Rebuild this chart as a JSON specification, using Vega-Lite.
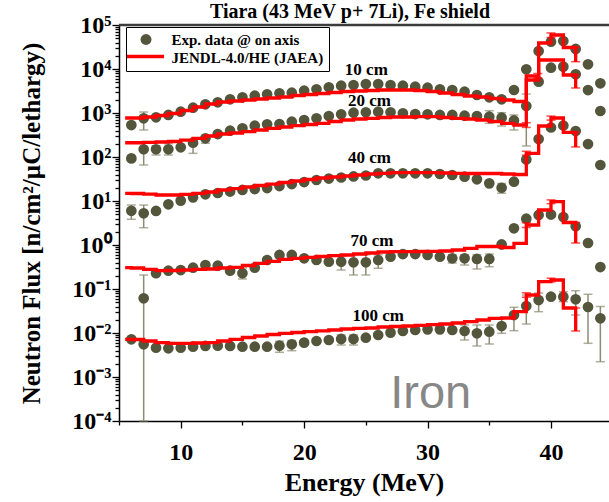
{
  "$schema": "https://vega.github.io/schema/vega-lite/v6.json",
  "width": 490,
  "height": 396,
  "autosize": {"type": "none"},
  "padding": {"left": 119, "top": 25, "right": 0, "bottom": 81},
  "background": "white",
  "title": {"text": "Tiara (43 MeV p+ 7Li), Fe shield", "font": "Liberation Serif", "fontSize": 20, "fontWeight": "bold", "color": "black", "anchor": "middle", "frame": "group", "dx": -14, "offset": -25, "baseline": "alphabetic"},
  "datasets": {
    "exp": [
      {"depth":"10 cm","E":6,"flux":533},{"depth":"10 cm","E":7,"flux":759},{"depth":"10 cm","E":8,"flux":798},{"depth":"10 cm","E":9,"flux":902},{"depth":"10 cm","E":10,"flux":1072},{"depth":"10 cm","E":11,"flux":1318},{"depth":"10 cm","E":12,"flux":1578},{"depth":"10 cm","E":13,"flux":1750},{"depth":"10 cm","E":14,"flux":2046},{"depth":"10 cm","E":15,"flux":2275},{"depth":"10 cm","E":16,"flux":2472},{"depth":"10 cm","E":17,"flux":2661},{"depth":"10 cm","E":18,"flux":2805},{"depth":"10 cm","E":19,"flux":2891},{"depth":"10 cm","E":20,"flux":3214},{"depth":"10 cm","E":21,"flux":3459},{"depth":"10 cm","E":22,"flux":3837},{"depth":"10 cm","E":23,"flux":4169},{"depth":"10 cm","E":24,"flux":4325},{"depth":"10 cm","E":25,"flux":4560},{"depth":"10 cm","E":26,"flux":4560},{"depth":"10 cm","E":27,"flux":4325},{"depth":"10 cm","E":28,"flux":4169},{"depth":"10 cm","E":29,"flux":3963},{"depth":"10 cm","E":30,"flux":3758},{"depth":"10 cm","E":31,"flux":3459},{"depth":"10 cm","E":32,"flux":3334},{"depth":"10 cm","E":33,"flux":3048},{"depth":"10 cm","E":34,"flux":2564},{"depth":"10 cm","E":35,"flux":2275},{"depth":"10 cm","E":36,"flux":2046},{"depth":"10 cm","E":37,"flux":3334},{"depth":"10 cm","E":38,"flux":9840},{"depth":"10 cm","E":39,"flux":25600},{"depth":"10 cm","E":40,"flux":41700},{"depth":"10 cm","E":41,"flux":43300},{"depth":"10 cm","E":42,"flux":28500},{"depth":"10 cm","E":43,"flux":12800},{"depth":"10 cm","E":44,"flux":4730},
      {"depth":"20 cm","E":6,"flux":93},{"depth":"20 cm","E":7,"flux":150},{"depth":"20 cm","E":8,"flux":150},{"depth":"20 cm","E":9,"flux":150},{"depth":"20 cm","E":10,"flux":166},{"depth":"20 cm","E":11,"flux":211},{"depth":"20 cm","E":12,"flux":266},{"depth":"20 cm","E":13,"flux":333},{"depth":"20 cm","E":14,"flux":396},{"depth":"20 cm","E":15,"flux":449},{"depth":"20 cm","E":16,"flux":514},{"depth":"20 cm","E":17,"flux":553},{"depth":"20 cm","E":18,"flux":562},{"depth":"20 cm","E":19,"flux":634},{"depth":"20 cm","E":20,"flux":693},{"depth":"20 cm","E":21,"flux":759},{"depth":"20 cm","E":22,"flux":855},{"depth":"20 cm","E":23,"flux":934},{"depth":"20 cm","E":24,"flux":1016},{"depth":"20 cm","E":25,"flux":1038},{"depth":"20 cm","E":26,"flux":1072},{"depth":"20 cm","E":27,"flux":1038},{"depth":"20 cm","E":28,"flux":984},{"depth":"20 cm","E":29,"flux":948},{"depth":"20 cm","E":30,"flux":934},{"depth":"20 cm","E":31,"flux":902},{"depth":"20 cm","E":32,"flux":902},{"depth":"20 cm","E":33,"flux":869},{"depth":"20 cm","E":34,"flux":855},{"depth":"20 cm","E":35,"flux":824},{"depth":"20 cm","E":36,"flux":782},{"depth":"20 cm","E":37,"flux":676},{"depth":"20 cm","E":38,"flux":1442},{"depth":"20 cm","E":39,"flux":5140},{"depth":"20 cm","E":40,"flux":10700},{"depth":"20 cm","E":41,"flux":11300},{"depth":"20 cm","E":42,"flux":7590},{"depth":"20 cm","E":43,"flux":3330},{"depth":"20 cm","E":44,"flux":1110},
      {"depth":"40 cm","E":6,"flux":6.0},{"depth":"40 cm","E":7,"flux":5.25},{"depth":"40 cm","E":8,"flux":5.93},{"depth":"40 cm","E":9,"flux":8.41},{"depth":"40 cm","E":10,"flux":10.2},{"depth":"40 cm","E":11,"flux":12.1},{"depth":"40 cm","E":12,"flux":14.2},{"depth":"40 cm","E":13,"flux":15.2},{"depth":"40 cm","E":14,"flux":16.4},{"depth":"40 cm","E":15,"flux":17.8},{"depth":"40 cm","E":16,"flux":18.7},{"depth":"40 cm","E":17,"flux":19.7},{"depth":"40 cm","E":18,"flux":21.9},{"depth":"40 cm","E":19,"flux":24.3},{"depth":"40 cm","E":20,"flux":27.0},{"depth":"40 cm","E":21,"flux":30.0},{"depth":"40 cm","E":22,"flux":32.4},{"depth":"40 cm","E":23,"flux":34.2},{"depth":"40 cm","E":24,"flux":36.1},{"depth":"40 cm","E":25,"flux":38.0},{"depth":"40 cm","E":26,"flux":42.7},{"depth":"40 cm","E":27,"flux":42.7},{"depth":"40 cm","E":28,"flux":42.7},{"depth":"40 cm","E":29,"flux":42.7},{"depth":"40 cm","E":30,"flux":42.7},{"depth":"40 cm","E":31,"flux":41.1},{"depth":"40 cm","E":32,"flux":39.0},{"depth":"40 cm","E":33,"flux":35.6},{"depth":"40 cm","E":34,"flux":31.1},{"depth":"40 cm","E":35,"flux":25.2},{"depth":"40 cm","E":36,"flux":20.0},{"depth":"40 cm","E":37,"flux":27.5},{"depth":"40 cm","E":38,"flux":87.7},{"depth":"40 cm","E":39,"flux":256},{"depth":"40 cm","E":40,"flux":468},{"depth":"40 cm","E":41,"flux":520},{"depth":"40 cm","E":42,"flux":390},{"depth":"40 cm","E":43,"flux":197},{"depth":"40 cm","E":44,"flux":65.8},
      {"depth":"70 cm","E":7,"flux":0.0615},{"depth":"70 cm","E":8,"flux":0.228},{"depth":"70 cm","E":9,"flux":0.261},{"depth":"70 cm","E":10,"flux":0.270},{"depth":"70 cm","E":11,"flux":0.305},{"depth":"70 cm","E":12,"flux":0.351},{"depth":"70 cm","E":13,"flux":0.339},{"depth":"70 cm","E":14,"flux":0.261},{"depth":"70 cm","E":15,"flux":0.228},{"depth":"70 cm","E":16,"flux":0.305},{"depth":"70 cm","E":17,"flux":0.456},{"depth":"70 cm","E":18,"flux":0.593},{"depth":"70 cm","E":19,"flux":0.593},{"depth":"70 cm","E":20,"flux":0.499},{"depth":"70 cm","E":21,"flux":0.456},{"depth":"70 cm","E":22,"flux":0.417},{"depth":"70 cm","E":23,"flux":0.417},{"depth":"70 cm","E":24,"flux":0.404},{"depth":"70 cm","E":25,"flux":0.404},{"depth":"70 cm","E":26,"flux":0.456},{"depth":"70 cm","E":27,"flux":0.542},{"depth":"70 cm","E":28,"flux":0.624},{"depth":"70 cm","E":29,"flux":0.624},{"depth":"70 cm","E":30,"flux":0.593},{"depth":"70 cm","E":31,"flux":0.542},{"depth":"70 cm","E":32,"flux":0.499},{"depth":"70 cm","E":33,"flux":0.499},{"depth":"70 cm","E":34,"flux":0.481},{"depth":"70 cm","E":35,"flux":0.481},{"depth":"70 cm","E":36,"flux":1.03},{"depth":"70 cm","E":37,"flux":2.40},{"depth":"70 cm","E":38,"flux":3.96},{"depth":"70 cm","E":39,"flux":4.81},{"depth":"70 cm","E":40,"flux":4.93},{"depth":"70 cm","E":41,"flux":4.33},{"depth":"70 cm","E":42,"flux":2.66},{"depth":"70 cm","E":43,"flux":1.11},{"depth":"70 cm","E":44,"flux":0.316},
      {"depth":"100 cm","E":6,"flux":0.00719},{"depth":"100 cm","E":7,"flux":0.00553},{"depth":"100 cm","E":8,"flux":0.00463},{"depth":"100 cm","E":9,"flux":0.00449},{"depth":"100 cm","E":10,"flux":0.00463},{"depth":"100 cm","E":11,"flux":0.00489},{"depth":"100 cm","E":12,"flux":0.00507},{"depth":"100 cm","E":13,"flux":0.00514},{"depth":"100 cm","E":14,"flux":0.00507},{"depth":"100 cm","E":15,"flux":0.00489},{"depth":"100 cm","E":16,"flux":0.00489},{"depth":"100 cm","E":17,"flux":0.00489},{"depth":"100 cm","E":18,"flux":0.00514},{"depth":"100 cm","E":19,"flux":0.00553},{"depth":"100 cm","E":20,"flux":0.00603},{"depth":"100 cm","E":21,"flux":0.00658},{"depth":"100 cm","E":22,"flux":0.00693},{"depth":"100 cm","E":23,"flux":0.00731},{"depth":"100 cm","E":24,"flux":0.00731},{"depth":"100 cm","E":25,"flux":0.00782},{"depth":"100 cm","E":26,"flux":0.00901},{"depth":"100 cm","E":27,"flux":0.0102},{"depth":"100 cm","E":28,"flux":0.0111},{"depth":"100 cm","E":29,"flux":0.0117},{"depth":"100 cm","E":30,"flux":0.0121},{"depth":"100 cm","E":31,"flux":0.0121},{"depth":"100 cm","E":32,"flux":0.0117},{"depth":"100 cm","E":33,"flux":0.0111},{"depth":"100 cm","E":34,"flux":0.00984},{"depth":"100 cm","E":35,"flux":0.0107},{"depth":"100 cm","E":36,"flux":0.0144},{"depth":"100 cm","E":37,"flux":0.0256},{"depth":"100 cm","E":38,"flux":0.0411},{"depth":"100 cm","E":39,"flux":0.0562},{"depth":"100 cm","E":40,"flux":0.0668},{"depth":"100 cm","E":41,"flux":0.0668},{"depth":"100 cm","E":42,"flux":0.0583},{"depth":"100 cm","E":43,"flux":0.0390},{"depth":"100 cm","E":44,"flux":0.0216}
    ],
    "errs": [
      {"depth":"10 cm","E":7,"lo":411,"hi":1054},
      {"depth":"20 cm","E":7,"lo":65.8,"hi":223},{"depth":"20 cm","E":8,"lo":111,"hi":180},{"depth":"20 cm","E":9,"lo":111,"hi":200},{"depth":"20 cm","E":11,"lo":121,"hi":240},{"depth":"20 cm","E":12,"lo":205,"hi":300},{"depth":"20 cm","E":35,"lo":583,"hi":1127},{"depth":"20 cm","E":36,"lo":507,"hi":1016},{"depth":"20 cm","E":37,"lo":411,"hi":902},{"depth":"20 cm","E":38,"lo":178,"hi":2704},
      {"depth":"40 cm","E":6,"lo":3.84,"hi":8.1},{"depth":"40 cm","E":7,"lo":2.47,"hi":8.1},{"depth":"40 cm","E":36,"lo":15.0,"hi":25},
      {"depth":"70 cm","E":7,"lo":0.0001,"hi":0.208},{"depth":"70 cm","E":15,"lo":0.169,"hi":0.3},{"depth":"70 cm","E":23,"lo":0.270,"hi":0.55},{"depth":"70 cm","E":24,"lo":0.208,"hi":0.6},{"depth":"70 cm","E":25,"lo":0.208,"hi":0.6},{"depth":"70 cm","E":26,"lo":0.295,"hi":0.6},{"depth":"70 cm","E":32,"lo":0.390,"hi":0.6},{"depth":"70 cm","E":33,"lo":0.351,"hi":0.6},{"depth":"70 cm","E":34,"lo":0.285,"hi":0.6},{"depth":"70 cm","E":35,"lo":0.321,"hi":0.624},
      {"depth":"100 cm","E":18,"lo":0.00364,"hi":0.0065},{"depth":"100 cm","E":19,"lo":0.00396,"hi":0.0068},{"depth":"100 cm","E":23,"lo":0.00533,"hi":0.009},{"depth":"100 cm","E":24,"lo":0.00533,"hi":0.009},{"depth":"100 cm","E":33,"lo":0.00693,"hi":0.0152},{"depth":"100 cm","E":34,"lo":0.00507,"hi":0.0152},{"depth":"100 cm","E":35,"lo":0.00562,"hi":0.0152},{"depth":"100 cm","E":36,"lo":0.00984,"hi":0.0219},{"depth":"100 cm","E":37,"lo":0.0113,"hi":0.0384},{"depth":"100 cm","E":38,"lo":0.0160,"hi":0.0731},{"depth":"100 cm","E":39,"lo":0.0305,"hi":0.0811},{"depth":"100 cm","E":41,"lo":0.0514,"hi":0.0869},{"depth":"100 cm","E":42,"lo":0.0256,"hi":0.0914},{"depth":"100 cm","E":43,"lo":0.00583,"hi":0.0759},{"depth":"100 cm","E":44,"lo":0.00223,"hi":0.0400}
    ],
    "moderr": [
      {"depth":"10 cm","E":42,"lo":14660,"hi":30820},{"depth":"20 cm","E":42,"lo":3700,"hi":7305},{"depth":"40 cm","E":42,"lo":169,"hi":361},{"depth":"70 cm","E":42,"lo":1.11,"hi":3.25},{"depth":"100 cm","E":42,"lo":0.0111,"hi":0.0370},
      {"depth":"10 cm","E":38.93,"lo":6200,"hi":7900},{"depth":"20 cm","E":38,"lo":470,"hi":600},{"depth":"40 cm","E":38,"lo":110,"hi":135},{"depth":"70 cm","E":38,"lo":2.5,"hi":3.2},{"depth":"100 cm","E":38,"lo":0.065,"hi":0.082},
      {"depth":"10 cm","E":40,"lo":52000,"hi":66000},{"depth":"40 cm","E":40,"lo":690,"hi":850},{"depth":"70 cm","E":40,"lo":8.7,"hi":10.6},{"depth":"100 cm","E":40,"lo":0.145,"hi":0.176}
    ],
    "model": [
      {"depth":"10 cm","E":5.5,"flux":769},{"depth":"10 cm","E":6,"flux":769},{"depth":"10 cm","E":7,"flux":811},{"depth":"10 cm","E":8,"flux":877},{"depth":"10 cm","E":9,"flux":974},{"depth":"10 cm","E":10,"flux":1140},{"depth":"10 cm","E":11,"flux":1369},{"depth":"10 cm","E":12,"flux":1603},{"depth":"10 cm","E":13,"flux":1778},{"depth":"10 cm","E":14,"flux":1874},{"depth":"10 cm","E":15,"flux":1974},{"depth":"10 cm","E":16,"flux":2080},{"depth":"10 cm","E":17,"flux":2193},{"depth":"10 cm","E":18,"flux":2310},{"depth":"10 cm","E":19,"flux":2500},{"depth":"10 cm","E":20,"flux":2633},{"depth":"10 cm","E":21,"flux":2775},{"depth":"10 cm","E":22,"flux":2924},{"depth":"10 cm","E":23,"flux":3081},{"depth":"10 cm","E":24,"flux":3162},{"depth":"10 cm","E":25,"flux":3246},{"depth":"10 cm","E":26,"flux":3332},{"depth":"10 cm","E":27,"flux":3332},{"depth":"10 cm","E":28,"flux":3332},{"depth":"10 cm","E":29,"flux":3246},{"depth":"10 cm","E":30,"flux":3081},{"depth":"10 cm","E":31,"flux":2848},{"depth":"10 cm","E":32,"flux":2633},{"depth":"10 cm","E":33,"flux":2433},{"depth":"10 cm","E":34,"flux":2310},{"depth":"10 cm","E":35,"flux":2136},{"depth":"10 cm","E":36,"flux":1974},{"depth":"10 cm","E":37,"flux":1825},{"depth":"10 cm","E":38,"flux":6934},{"depth":"10 cm","E":39,"flux":38990},{"depth":"10 cm","E":40,"flux":59250},{"depth":"10 cm","E":41,"flux":30820},{"depth":"10 cm","E":42,"flux":14660},
      {"depth":"20 cm","E":5.5,"flux":211},{"depth":"20 cm","E":6,"flux":211},{"depth":"20 cm","E":7,"flux":214},{"depth":"20 cm","E":8,"flux":219},{"depth":"20 cm","E":9,"flux":225},{"depth":"20 cm","E":10,"flux":243},{"depth":"20 cm","E":11,"flux":266},{"depth":"20 cm","E":12,"flux":300},{"depth":"20 cm","E":13,"flux":333},{"depth":"20 cm","E":14,"flux":351},{"depth":"20 cm","E":15,"flux":376},{"depth":"20 cm","E":16,"flux":411},{"depth":"20 cm","E":17,"flux":449},{"depth":"20 cm","E":18,"flux":481},{"depth":"20 cm","E":19,"flux":514},{"depth":"20 cm","E":20,"flux":548},{"depth":"20 cm","E":21,"flux":583},{"depth":"20 cm","E":22,"flux":641},{"depth":"20 cm","E":23,"flux":693},{"depth":"20 cm","E":24,"flux":731},{"depth":"20 cm","E":25,"flux":758},{"depth":"20 cm","E":26,"flux":791},{"depth":"20 cm","E":27,"flux":811},{"depth":"20 cm","E":28,"flux":811},{"depth":"20 cm","E":29,"flux":824},{"depth":"20 cm","E":30,"flux":824},{"depth":"20 cm","E":31,"flux":791},{"depth":"20 cm","E":32,"flux":758},{"depth":"20 cm","E":33,"flux":731},{"depth":"20 cm","E":34,"flux":693},{"depth":"20 cm","E":35,"flux":641},{"depth":"20 cm","E":36,"flux":583},{"depth":"20 cm","E":37,"flux":534},{"depth":"20 cm","E":38,"flux":5623},{"depth":"20 cm","E":39,"flux":16030},{"depth":"20 cm","E":40,"flux":16030},{"depth":"20 cm","E":41,"flux":7305},{"depth":"20 cm","E":42,"flux":3700},
      {"depth":"40 cm","E":5.5,"flux":14.96},{"depth":"40 cm","E":6,"flux":14.8},{"depth":"40 cm","E":7,"flux":14.4},{"depth":"40 cm","E":8,"flux":13.7},{"depth":"40 cm","E":9,"flux":13.7},{"depth":"40 cm","E":10,"flux":14.1},{"depth":"40 cm","E":11,"flux":14.96},{"depth":"40 cm","E":12,"flux":16.0},{"depth":"40 cm","E":13,"flux":17.8},{"depth":"40 cm","E":14,"flux":19.2},{"depth":"40 cm","E":15,"flux":20.8},{"depth":"40 cm","E":16,"flux":22.5},{"depth":"40 cm","E":17,"flux":24.3},{"depth":"40 cm","E":18,"flux":26.3},{"depth":"40 cm","E":19,"flux":28.5},{"depth":"40 cm","E":20,"flux":30.8},{"depth":"40 cm","E":21,"flux":33.3},{"depth":"40 cm","E":22,"flux":35.1},{"depth":"40 cm","E":23,"flux":37.0},{"depth":"40 cm","E":24,"flux":39.0},{"depth":"40 cm","E":25,"flux":41.1},{"depth":"40 cm","E":26,"flux":42.6},{"depth":"40 cm","E":27,"flux":44.0},{"depth":"40 cm","E":28,"flux":44.0},{"depth":"40 cm","E":29,"flux":44.0},{"depth":"40 cm","E":30,"flux":44.0},{"depth":"40 cm","E":31,"flux":43.3},{"depth":"40 cm","E":32,"flux":42.6},{"depth":"40 cm","E":33,"flux":42.2},{"depth":"40 cm","E":34,"flux":42.2},{"depth":"40 cm","E":35,"flux":42.2},{"depth":"40 cm","E":36,"flux":41.1},{"depth":"40 cm","E":37,"flux":40.0},{"depth":"40 cm","E":38,"flux":121},{"depth":"40 cm","E":39,"flux":507},{"depth":"40 cm","E":40,"flux":769},{"depth":"40 cm","E":41,"flux":361},{"depth":"40 cm","E":42,"flux":169},
      {"depth":"70 cm","E":5.5,"flux":0.305},{"depth":"70 cm","E":6,"flux":0.300},{"depth":"70 cm","E":7,"flux":0.278},{"depth":"70 cm","E":8,"flux":0.261},{"depth":"70 cm","E":9,"flux":0.263},{"depth":"70 cm","E":10,"flux":0.270},{"depth":"70 cm","E":11,"flux":0.278},{"depth":"70 cm","E":12,"flux":0.285},{"depth":"70 cm","E":13,"flux":0.300},{"depth":"70 cm","E":14,"flux":0.311},{"depth":"70 cm","E":15,"flux":0.342},{"depth":"70 cm","E":16,"flux":0.384},{"depth":"70 cm","E":17,"flux":0.426},{"depth":"70 cm","E":18,"flux":0.473},{"depth":"70 cm","E":19,"flux":0.499},{"depth":"70 cm","E":20,"flux":0.525},{"depth":"70 cm","E":21,"flux":0.548},{"depth":"70 cm","E":22,"flux":0.571},{"depth":"70 cm","E":23,"flux":0.593},{"depth":"70 cm","E":24,"flux":0.624},{"depth":"70 cm","E":25,"flux":0.658},{"depth":"70 cm","E":26,"flux":0.693},{"depth":"70 cm","E":27,"flux":0.705},{"depth":"70 cm","E":28,"flux":0.705},{"depth":"70 cm","E":29,"flux":0.712},{"depth":"70 cm","E":30,"flux":0.719},{"depth":"70 cm","E":31,"flux":0.731},{"depth":"70 cm","E":32,"flux":0.770},{"depth":"70 cm","E":33,"flux":0.841},{"depth":"70 cm","E":34,"flux":0.925},{"depth":"70 cm","E":35,"flux":0.925},{"depth":"70 cm","E":36,"flux":0.877},{"depth":"70 cm","E":37,"flux":1.093},{"depth":"70 cm","E":38,"flux":2.85},{"depth":"70 cm","E":39,"flux":6.24},{"depth":"70 cm","E":40,"flux":9.64},{"depth":"70 cm","E":41,"flux":3.25},{"depth":"70 cm","E":42,"flux":1.11},
      {"depth":"100 cm","E":5.5,"flux":0.00719},{"depth":"100 cm","E":6,"flux":0.00712},{"depth":"100 cm","E":7,"flux":0.00658},{"depth":"100 cm","E":8,"flux":0.00602},{"depth":"100 cm","E":9,"flux":0.00583},{"depth":"100 cm","E":10,"flux":0.00583},{"depth":"100 cm","E":11,"flux":0.00593},{"depth":"100 cm","E":12,"flux":0.00602},{"depth":"100 cm","E":13,"flux":0.00658},{"depth":"100 cm","E":14,"flux":0.00719},{"depth":"100 cm","E":15,"flux":0.00791},{"depth":"100 cm","E":16,"flux":0.00855},{"depth":"100 cm","E":17,"flux":0.00925},{"depth":"100 cm","E":18,"flux":0.00985},{"depth":"100 cm","E":19,"flux":0.01026},{"depth":"100 cm","E":20,"flux":0.01071},{"depth":"100 cm","E":21,"flux":0.01122},{"depth":"100 cm","E":22,"flux":0.0117},{"depth":"100 cm","E":23,"flux":0.01233},{"depth":"100 cm","E":24,"flux":0.01279},{"depth":"100 cm","E":25,"flux":0.0130},{"depth":"100 cm","E":26,"flux":0.01368},{"depth":"100 cm","E":27,"flux":0.01405},{"depth":"100 cm","E":28,"flux":0.01443},{"depth":"100 cm","E":29,"flux":0.01496},{"depth":"100 cm","E":30,"flux":0.01545},{"depth":"100 cm","E":31,"flux":0.01602},{"depth":"100 cm","E":32,"flux":0.01687},{"depth":"100 cm","E":33,"flux":0.01807},{"depth":"100 cm","E":34,"flux":0.01974},{"depth":"100 cm","E":35,"flux":0.02158},{"depth":"100 cm","E":36,"flux":0.02193},{"depth":"100 cm","E":37,"flux":0.0305},{"depth":"100 cm","E":38,"flux":0.0731},{"depth":"100 cm","E":39,"flux":0.1466},{"depth":"100 cm","E":40,"flux":0.160},{"depth":"100 cm","E":41,"flux":0.0370},{"depth":"100 cm","E":42,"flux":0.0111}
    ],
    "labels": [
      {"text":"10 cm","E":25.04,"flux":9490},{"text":"20 cm","E":25.3,"flux":1874},{"text":"40 cm","E":25.3,"flux":94.9},{"text":"70 cm","E":25.5,"flux":1.23},{"text":"100 cm","E":26.0,"flux":0.0243}
    ],
    "note": [{"text":"Iron","E":30.26,"flux":0.000197}]
  },
  "layer": [
    {
      "data": {"values": [{"edge": "top"}]},
      "mark": {"type": "rule", "color": "#3c3c3c", "strokeWidth": 2.5},
      "encoding": {"y": {"datum": 100000, "type": "quantitative", "scale": {"type": "log", "domain": [0.0001, 100000]}, "title": "Neutron Flux [n/cm²/µC/lethargy)"}}
    },
    {
      "data": {"name": "errs"},
      "mark": {"type": "errorbar", "ticks": {"size": 9}, "thickness": 1.5, "color": "#8c8c74"},
      "encoding": {
        "x": {"field": "E", "type": "quantitative", "title": "Energy (MeV)", "scale": {"domain": [5, 44.7], "nice": false, "zero": false}},
        "y": {"field": "lo", "type": "quantitative", "title": "Neutron Flux [n/cm²/µC/lethargy)", "scale": {"type": "log", "domain": [0.0001, 100000]}},
        "y2": {"field": "hi"}
      }
    },
    {
      "data": {"name": "exp"},
      "mark": {"type": "point", "filled": true, "size": 115, "opacity": 1},
      "encoding": {
        "x": {"field": "E", "type": "quantitative", "title": "Energy (MeV)", "scale": {"domain": [5, 44.7], "nice": false, "zero": false},
          "axis": {"values": [5,10,15,20,25,30,35,40], "labelExpr": "datum.value % 10 === 0 ? toString(datum.value) : ''",
            "tickSize": {"condition": {"test": "datum.value % 10 === 0", "value": 7}, "value": 4},
            "labelFontSize": 24, "labelPadding": 12, "labelFlush": false, "labelOverlap": false,
            "titleFontSize": 26, "titleY": 69, "titleBaseline": "alphabetic"}},
        "y": {"field": "flux", "type": "quantitative", "title": "Neutron Flux [n/cm²/µC/lethargy)", "scale": {"type": "log", "domain": [0.0001, 100000]},
          "axis": {"values": [0.0001,0.0002,0.0003,0.0004,0.0005,0.0006,0.0007,0.0008,0.0009,0.001,0.002,0.003,0.004,0.005,0.006,0.007,0.008,0.009,0.01,0.02,0.03,0.04,0.05,0.06,0.07,0.08,0.09,0.1,0.2,0.3,0.4,0.5,0.6,0.7,0.8,0.9,1,2,3,4,5,6,7,8,9,10,20,30,40,50,60,70,80,90,100,200,300,400,500,600,700,800,900,1000,2000,3000,4000,5000,6000,7000,8000,9000,10000,20000,30000,40000,50000,60000,70000,80000,90000,100000],
            "labelExpr": "datum.value === 100000 ? '10⁵' : datum.value === 10000 ? '10⁴' : datum.value === 1000 ? '10³' : datum.value === 100 ? '10²' : datum.value === 10 ? '10¹' : datum.value === 1 ? '10⁰' : datum.value === 0.1 ? '10⁻¹' : datum.value === 0.01 ? '10⁻²' : datum.value === 0.001 ? '10⁻³' : datum.value === 0.0001 ? '10⁻⁴' : ''",
            "tickSize": {"condition": {"test": "indexof([0.0001,0.001,0.01,0.1,1,10,100,1000,10000,100000], datum.value) >= 0", "value": 7}, "value": 4},
            "labelFontSize": 24, "labelPadding": 1, "labelOverlap": false, "labelFlush": false,
            "titleFontSize": 25, "titleX": -88, "titleY": 198, "titleAngle": -90, "titleAlign": "center", "titleBaseline": "middle"}},
        "color": {"datum": "Exp. data @ on axis", "type": "nominal",
          "scale": {"domain": ["Exp. data @ on axis", "JENDL-4.0/HE (JAEA)"], "range": ["#54563c", "transparent"]},
          "legend": {"title": null, "orient": "none", "legendX": 7, "legendY": 2, "direction": "vertical",
            "strokeColor": "black", "padding": 5, "rowPadding": 2,
            "labelFont": "Liberation Serif", "labelFontWeight": "bold", "labelFontSize": 15, "labelColor": "black",
            "symbolType": "circle", "symbolSize": 120, "symbolOffset": 7.5, "labelOffset": 18, "symbolStrokeWidth": 0}
        }
      }
    },
    {
      "data": {"name": "model"},
      "mark": {"type": "line", "interpolate": "step-after", "strokeWidth": 3.3},
      "encoding": {
        "x": {"field": "E", "type": "quantitative", "title": "Energy (MeV)", "scale": {"domain": [5, 44.7], "nice": false, "zero": false}},
        "y": {"field": "flux", "type": "quantitative", "title": "Neutron Flux [n/cm²/µC/lethargy)", "scale": {"type": "log", "domain": [0.0001, 100000]}},
        "detail": {"field": "depth", "type": "nominal"},
        "stroke": {"datum": "JENDL-4.0/HE (JAEA)", "type": "nominal",
          "scale": {"domain": ["JENDL-4.0/HE (JAEA)"], "range": ["#ff0000"]},
          "legend": {"title": null, "orient": "none", "legendX": 6, "legendY": 11, "padding": 0,
            "symbolType": "stroke", "symbolSize": 1369, "symbolStrokeWidth": 3.3, "symbolStrokeColor": "#ff0000",
            "labelExpr": "''", "labelFontSize": 10, "labelOffset": 0}}
      }
    },
    {
      "data": {"name": "moderr"},
      "mark": {"type": "errorbar", "ticks": {"size": 9}, "thickness": 1.5, "color": "#ff0000"},
      "encoding": {
        "x": {"field": "E", "type": "quantitative", "title": "Energy (MeV)", "scale": {"domain": [5, 44.7], "nice": false, "zero": false}},
        "y": {"field": "lo", "type": "quantitative", "title": "Neutron Flux [n/cm²/µC/lethargy)", "scale": {"type": "log", "domain": [0.0001, 100000]}},
        "y2": {"field": "hi"}
      }
    },
    {
      "data": {"name": "labels"},
      "mark": {"type": "text", "font": "Liberation Serif", "fontWeight": "bold", "fontSize": 17, "align": "center", "baseline": "middle", "color": "black"},
      "encoding": {
        "x": {"field": "E", "type": "quantitative", "title": "Energy (MeV)", "scale": {"domain": [5, 44.7], "nice": false, "zero": false}},
        "y": {"field": "flux", "type": "quantitative", "title": "Neutron Flux [n/cm²/µC/lethargy)", "scale": {"type": "log", "domain": [0.0001, 100000]}},
        "text": {"field": "text"}
      }
    },
    {
      "data": {"name": "note"},
      "mark": {"type": "text", "font": "Liberation Sans", "fontSize": 47, "align": "center", "baseline": "alphabetic", "color": "#878787"},
      "encoding": {
        "x": {"field": "E", "type": "quantitative", "title": "Energy (MeV)", "scale": {"domain": [5, 44.7], "nice": false, "zero": false}},
        "y": {"field": "flux", "type": "quantitative", "title": "Neutron Flux [n/cm²/µC/lethargy)", "scale": {"type": "log", "domain": [0.0001, 100000]}},
        "text": {"field": "text"}
      }
    }
  ],
  "config": {
    "view": {"stroke": null},
    "font": "Liberation Serif",
    "axis": {"labelFont": "Liberation Serif", "labelFontWeight": "bold", "labelColor": "black", "titleFont": "Liberation Serif", "titleFontWeight": "bold", "titleColor": "black", "domainColor": "black", "domainWidth": 1.5, "tickColor": "black", "tickWidth": 1.3, "grid": false}
  }
}
